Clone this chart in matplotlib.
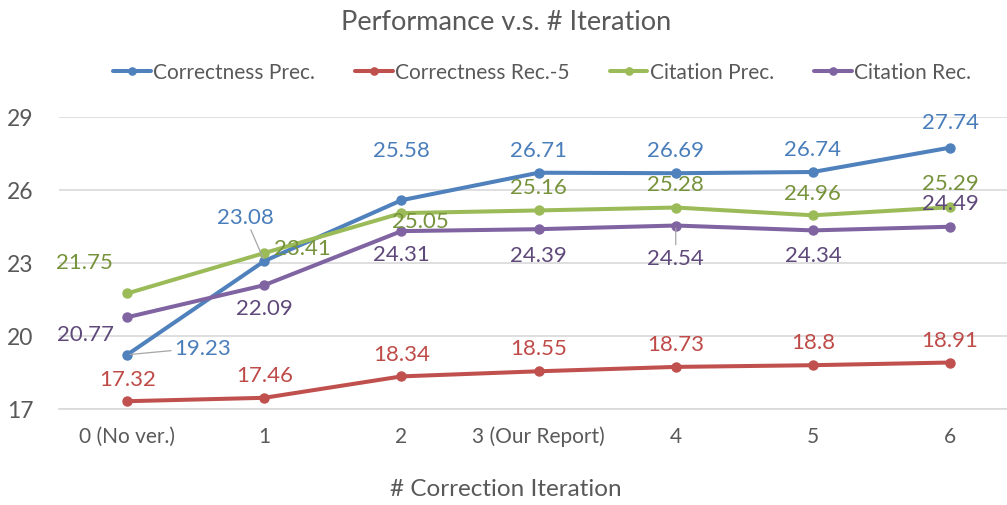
import matplotlib.pyplot as plt

plt.rcParams['font.family'] = ['Lato', 'DejaVu Sans']

iterations = ['0 (No ver.)', '1', '2', '3 (Our Report)', '4', '5', '6']
corr_prec = [19.23, 23.08, 25.58, 26.71, 26.69, 26.74, 27.74]
corr_rec5 = [17.32, 17.46, 18.34, 18.55, 18.73, 18.8, 18.91]
cite_prec = [21.75, 23.41, 25.05, 25.16, 25.28, 24.96, 25.29]
cite_rec = [20.77, 22.09, 24.31, 24.39, 24.54, 24.34, 24.49]
y_ticks = [17, 20, 23, 26, 29]

# label offsets in pixels (dx, dy) and whether a leader line is drawn
series = [
    ('Correctness Prec.', corr_prec, '#4F81BD', '#4A7EBB',
     [(75, 7, True), (-19, 44, True), (0, 50, False), (0, 23, False),
      (0, 23, False), (0, 23, False), (0, 26, False)]),
    ('Correctness Rec.-5', corr_rec5, '#C0504D', '#BE4B48',
     [(0, 22, False), (0, 23, False), (0, 22, False), (0, 23, False),
      (0, 23, False), (0, 23, False), (0, 23, False)]),
    ('Citation Prec.', cite_prec, '#9BBB59', '#77933C',
     [(-43, 31, False), (38, 5, False), (19, -8, False), (0, 23, False),
      (0, 24, False), (0, 22, False), (0, 24, False)]),
    ('Citation Rec.', cite_rec, '#8064A2', '#5F497A',
     [(-42, -17, False), (0, -23, False), (0, -23, False), (0, -26, False),
      (0, -32, True), (0, -25, False), (0, 24, False)]),
]

fig = plt.figure(figsize=(10.07, 5.06), dpi=100)
ax = fig.add_axes([58.6 / 1007, 1 - 410 / 506, 960 / 1007, 292 / 506])
x = list(range(len(iterations)))

for name, vals, lc, tc, offs in series:
    ax.plot(x, vals, color=lc, lw=2.9, marker='o', ms=6.5, label=name,
            solid_capstyle='round', zorder=3)
    for xi, v, (dx, dy, lead) in zip(x, vals, offs):
        props = None
        if lead:
            props = dict(arrowstyle='-', color='#A6A6A6', lw=0.9,
                         shrinkA=0, shrinkB=2)
        ax.annotate(f'{v:g}', (xi, v), xytext=(dx, dy),
                    textcoords='offset pixels', ha='center', va='center',
                    fontsize=16, color=tc, arrowprops=props, zorder=4)

ax.set_xlim(-0.5, 6.5)
ax.set_ylim(17, 29)
ax.set_yticks(y_ticks)
ax.set_xticks(x)
ax.set_xticklabels(iterations)
ax.grid(axis='y', color='#D9D9D9', lw=1.2)
ax.set_axisbelow(True)
for s in ['left', 'right', 'top']:
    ax.spines[s].set_visible(False)
ax.spines['bottom'].set_color('#D9D9D9')
ax.spines['bottom'].set_linewidth(1.2)
ax.tick_params(length=0, labelsize=15, colors='#595959')
ax.tick_params(axis='x', pad=12)
ax.tick_params(axis='y', pad=18)
for t in ax.get_yticklabels():
    t.set_fontsize(16.5)

fig.text(506 / 1007, 1 - 22 / 506, 'Performance v.s. # Iteration',
         ha='center', va='center', fontsize=19.5, color='#595959')
fig.text(506 / 1007, 1 - 490 / 506, '# Correction Iteration',
         ha='center', va='center', fontsize=17.5, color='#595959')

leg = fig.legend(loc='center', bbox_to_anchor=(542 / 1007, 1 - 73 / 506),
                 ncol=4, frameon=False, fontsize=15, handlelength=1.8,
                 handletextpad=0.1, columnspacing=1.95, markerscale=0.8)
for t in leg.get_texts():
    t.set_color('#595959')

fig.savefig('out.png', dpi=100)
